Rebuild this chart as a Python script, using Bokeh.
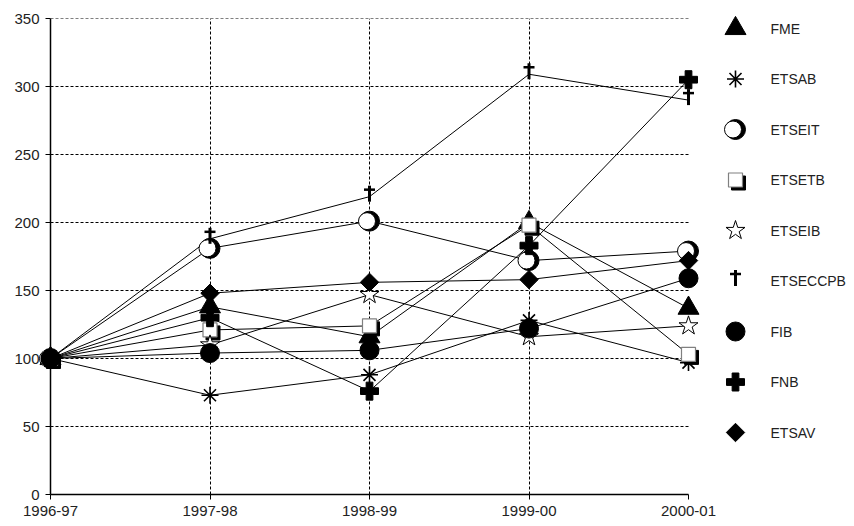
import math
from bokeh.plotting import figure
from bokeh.models import Range1d, FixedTicker, ColumnDataSource
from bokeh.transform import dodge
from bokeh.core.properties import value
from bokeh.embed import file_html
from bokeh.resources import INLINE

years = ["1996-97", "1997-98", "1998-99", "1999-00", "2000-01"]
schools = ["FME", "ETSAB", "ETSEIT", "ETSETB", "ETSEIB", "ETSECCPB", "FIB", "FNB", "ETSAV"]

fme = [100, 138, 116, 200, 137]
etsab = [100, 73, 88, 128, 97]
etseit = [100, 181, 201, 172, 179]
etsetb = [100, 121, 124, 198, 103]
etseib = [100, 110, 147, 116, 124]
etseccpb = [100, 188, 219, 309, 290]
fib = [100, 104, 106, 122, 159]
fnb = [100, 130, 76, 183, 305]
etsav = [100, 148, 156, 158, 172]

series = [fme, etsab, etseit, etsetb, etseib, etseccpb, fib, fnb, etsav]
yticks = [0, 50, 100, 150, 200, 250, 300, 350]

FONT = "Liberation Sans"
TXT = "#222222"

W, H = 850, 524
FL, FR, FT, FB = 50, 688, 18, 494   # data-area edges in canvas px
FRAME_R = 846                        # frame extends over the legend column
LEG_X, LEG_TX, LEG_Y0, LEG_DY = 735, 770, 28, 50.5


def draw_marker(fig, name, src, ux, uy, **kw):
    kw = dict(level="overlay", **kw)
    if name == "FME":
        fig.scatter("x", "y", source=src, marker="triangle", size=21,
                    fill_color="black", line_color="black", **kw)
    elif name == "ETSAB":
        fig.scatter("x", "y", source=src, marker="asterisk", size=17,
                    line_color="black", line_width=1.6, **kw)
    elif name == "ETSEIT":
        fig.scatter("x", "y", source=src, marker="circle", size=20,
                    fill_color="black", line_color="black", **kw)
        fig.scatter(dodge("x", -2.5 * ux), "y", source=src, marker="circle", size=17,
                    fill_color="white", line_color="black", line_width=1, **kw)
    elif name == "ETSETB":
        fig.scatter(dodge("x", 3 * ux), dodge("y", -3 * uy), source=src, marker="square",
                    size=14, fill_color="black", line_color="black", **kw)
        fig.scatter("x", "y", source=src, marker="square", size=14,
                    fill_color="white", line_color="#808080", line_width=1.2, **kw)
    elif name == "ETSEIB":
        fig.scatter("x", "y", source=src, marker="star", size=20,
                    fill_color="white", line_color="black", line_width=1, **kw)
    elif name == "ETSECCPB":
        fig.scatter("x", dodge("y", 3 * uy), source=src, marker="dash", angle=math.pi / 2,
                    size=16, line_color="black", line_width=3, **kw)
        fig.scatter("x", dodge("y", 7 * uy), source=src, marker="dash",
                    size=11, line_color="black", line_width=2.5, **kw)
    elif name == "FIB":
        fig.scatter("x", "y", source=src, marker="circle", size=19,
                    fill_color="black", line_color="black", **kw)
    elif name == "FNB":
        fig.scatter("x", "y", source=src, marker="plus", size=18,
                    fill_color="black", line_color="black", **kw)
    elif name == "ETSAV":
        fig.scatter("x", "y", source=src, marker="square", angle=math.pi / 4, size=13,
                    fill_color="black", line_color="black", **kw)


xs = list(range(len(years)))
x_last = len(years) - 1
px_per_unit = (FR - FL) / x_last
x_end = (FRAME_R - FL) / px_per_unit

p = figure(width=W, height=H, x_range=Range1d(0, x_end),
           y_range=Range1d(0, 350), output_backend="svg", toolbar_location=None,
           min_border_left=FL, min_border_right=W - FRAME_R, min_border_top=FT,
           min_border_bottom=H - FB)
p.outline_line_color = None
p.background_fill_color = "white"
p.border_fill_color = "white"

# pixel-aligned helper ranges for the legend column
p.extra_x_ranges = {"px": Range1d(FL, FRAME_R)}
p.extra_y_ranges = {"px": Range1d(FB, FT)}

ux = 1.0 / px_per_unit
uy = 350 / (FB - FT)

# horizontal dashed gridlines limited to the data span
p.ygrid.visible = False
p.segment(x0=[0] * len(yticks[1:]), y0=yticks[1:], x1=[x_last] * len(yticks[1:]),
          y1=yticks[1:], line_color="black", line_dash="3 2", line_width=1,
          level="underlay")

for name, vals in zip(schools, series):
    src = ColumnDataSource(dict(x=xs, y=vals))
    p.line("x", "y", source=src, line_color="black", line_width=1)
    draw_marker(p, name, src, ux, uy)

# legend
for i, name in enumerate(schools):
    ly = LEG_Y0 + LEG_DY * i
    src = ColumnDataSource(dict(x=[LEG_X], y=[ly], lab=[name], tx=[LEG_TX]))
    draw_marker(p, name, src, 1, -1, x_range_name="px", y_range_name="px")
    p.text("tx", "y", text="lab", source=src, text_font=value(FONT),
           text_font_size="14px", text_baseline="middle", text_align="left",
           text_color=TXT, x_range_name="px", y_range_name="px", level="overlay")

p.xaxis.ticker = FixedTicker(ticks=xs)
p.xaxis.bounds = (0, x_last)
p.xaxis.major_label_overrides = {i: y for i, y in enumerate(years)}
p.yaxis.ticker = FixedTicker(ticks=yticks)
p.xgrid.ticker = FixedTicker(ticks=xs[1:-1])
p.xgrid.grid_line_color = "black"
p.xgrid.grid_line_dash = "3 2"
p.xgrid.grid_line_width = 1
for ax in (p.xaxis, p.yaxis):
    ax.axis_line_color = "black"
    ax.axis_line_width = 1.5
    ax.major_tick_line_color = "black"
    ax.major_tick_in = 0
    ax.major_tick_out = 5
    ax.minor_tick_line_color = None
    ax.major_label_text_font = FONT
    ax.major_label_text_font_size = "15px"
    ax.major_label_text_color = TXT
    ax.major_label_standoff = 6

open("out.html", "w").write(file_html(p, INLINE))
